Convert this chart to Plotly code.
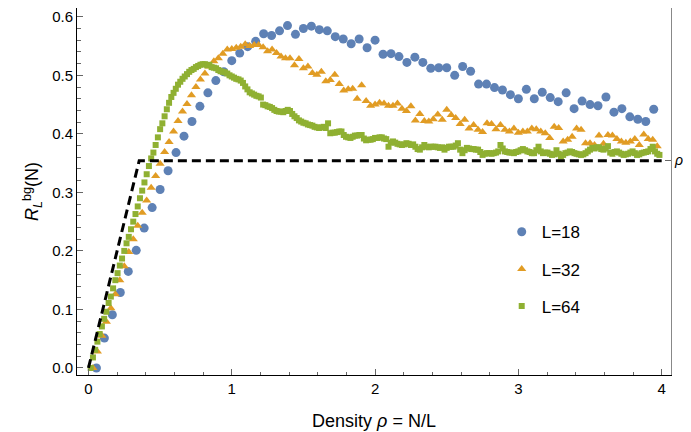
import numpy as np
import plotly.graph_objects as go

# reference line value (critical density)
rho_c = 0.354

# L=18 values, N = 1..71
r_L18 = [0.0, 0.051, 0.091, 0.129, 0.165, 0.201, 0.239, 0.274, 0.305, 0.337,
         0.368, 0.396, 0.421, 0.447, 0.470, 0.491, 0.506, 0.525, 0.538, 0.549,
         0.558, 0.571, 0.568, 0.576, 0.585, 0.570, 0.580, 0.584, 0.578, 0.576,
         0.566, 0.562, 0.554, 0.562, 0.547, 0.560, 0.536, 0.537, 0.532, 0.522,
         0.531, 0.522, 0.512, 0.513, 0.513, 0.500, 0.515, 0.507, 0.485, 0.485,
         0.479, 0.475, 0.467, 0.460, 0.476, 0.460, 0.471, 0.462, 0.455, 0.470,
         0.443, 0.456, 0.450, 0.448, 0.463, 0.437, 0.443, 0.429, 0.425, 0.421,
         0.442]

# L=32 values, N = 1..127
r_L32 = [0.0, 0.028, 0.055, 0.079, 0.102, 0.126, 0.150, 0.174, 0.198, 0.220,
         0.243, 0.265, 0.286, 0.308, 0.328, 0.349, 0.369, 0.386, 0.404, 0.422,
         0.438, 0.451, 0.466, 0.480, 0.493, 0.503, 0.515, 0.524, 0.529, 0.537,
         0.544, 0.545, 0.547, 0.549, 0.553, 0.550, 0.552, 0.552, 0.548, 0.541,
         0.544, 0.538, 0.532, 0.529, 0.529, 0.517, 0.528, 0.512, 0.515, 0.504,
         0.501, 0.506, 0.490, 0.492, 0.501, 0.485, 0.474, 0.476, 0.477, 0.460,
         0.483, 0.456, 0.448, 0.450, 0.453, 0.452, 0.448, 0.448, 0.452, 0.443,
         0.439, 0.447, 0.423, 0.434, 0.422, 0.421, 0.425, 0.433, 0.424, 0.441,
         0.432, 0.427, 0.417, 0.424, 0.409, 0.415, 0.407, 0.403, 0.418, 0.417,
         0.408, 0.415, 0.407, 0.404, 0.409, 0.402, 0.404, 0.404, 0.409, 0.408,
         0.404, 0.401, 0.393, 0.412, 0.410, 0.387, 0.390, 0.395, 0.409, 0.407,
         0.384, 0.384, 0.381, 0.397, 0.383, 0.398, 0.397, 0.391, 0.387, 0.385,
         0.387, 0.391, 0.381, 0.399, 0.391, 0.390, 0.379]

# L=64 values, N = 1..255
r_L64 = [0.0, 0.018, 0.031, 0.045, 0.058, 0.071, 0.084, 0.096, 0.111, 0.122,
         0.136, 0.150, 0.162, 0.175, 0.187, 0.200, 0.213, 0.224, 0.237, 0.250,
         0.263, 0.276, 0.290, 0.303, 0.317, 0.331, 0.345, 0.358, 0.368, 0.381,
         0.394, 0.408, 0.418, 0.430, 0.442, 0.453, 0.463, 0.470, 0.477, 0.484,
         0.489, 0.494, 0.498, 0.502, 0.506, 0.509, 0.511, 0.514, 0.516, 0.518,
         0.519, 0.519, 0.517, 0.518, 0.514, 0.513, 0.512, 0.509, 0.507, 0.506,
         0.505, 0.503, 0.500, 0.498, 0.496, 0.494, 0.493, 0.491, 0.487, 0.481,
         0.476, 0.471, 0.469, 0.467, 0.465, 0.464, 0.462, 0.450, 0.449, 0.447,
         0.446, 0.444, 0.441, 0.439, 0.438, 0.438, 0.437, 0.439, 0.441, 0.439,
         0.434, 0.430, 0.427, 0.423, 0.421, 0.419, 0.418, 0.416, 0.415, 0.414,
         0.412, 0.411, 0.410, 0.411, 0.412, 0.410, 0.418, 0.401, 0.402, 0.402,
         0.403, 0.404, 0.404, 0.398, 0.395, 0.394, 0.393, 0.395, 0.397, 0.397,
         0.398, 0.398, 0.392, 0.389, 0.390, 0.390, 0.391, 0.393, 0.393, 0.394,
         0.394, 0.392, 0.391, 0.378, 0.385, 0.387, 0.385, 0.383, 0.382, 0.381,
         0.382, 0.384, 0.383, 0.381, 0.382, 0.378, 0.374, 0.373, 0.377, 0.381,
         0.378, 0.377, 0.378, 0.378, 0.378, 0.377, 0.376, 0.377, 0.373, 0.376,
         0.378, 0.378, 0.378, 0.380, 0.384, 0.373, 0.367, 0.372, 0.376, 0.375,
         0.374, 0.374, 0.373, 0.373, 0.369, 0.364, 0.366, 0.367, 0.367, 0.366,
         0.367, 0.368, 0.370, 0.381, 0.375, 0.370, 0.369, 0.368, 0.368, 0.367,
         0.369, 0.370, 0.372, 0.374, 0.372, 0.370, 0.369, 0.367, 0.367, 0.372,
         0.378, 0.370, 0.367, 0.368, 0.368, 0.366, 0.364, 0.365, 0.372, 0.366,
         0.361, 0.364, 0.367, 0.368, 0.370, 0.369, 0.367, 0.366, 0.365, 0.364,
         0.365, 0.367, 0.370, 0.373, 0.376, 0.375, 0.377, 0.377, 0.374, 0.373,
         0.375, 0.379, 0.368, 0.366, 0.369, 0.370, 0.368, 0.366, 0.364, 0.365,
         0.366, 0.368, 0.370, 0.367, 0.364, 0.365, 0.367, 0.368, 0.369, 0.370,
         0.374, 0.378, 0.370, 0.366, 0.364]

series = [
    ('L=18', 18, r_L18, '#5E81B5', 'circle', 9),
    ('L=32', 32, r_L32, '#E19C24', 'triangle-up', 8),
    ('L=64', 64, r_L64, '#8FB032', 'square', 6),
]

x_max = 4.0
FONT = 'Liberation Sans, Arial, sans-serif'

fig = go.Figure()

# dashed guide: rho up to rho_c, then flat
fig.add_trace(go.Scatter(
    x=[0, rho_c, x_max], y=[0, rho_c, rho_c], mode='lines',
    line=dict(color='black', width=3, dash='9px,5px'),
    showlegend=False, hoverinfo='skip', yaxis='y2'))

for name, L, vals, col, sym, sz in series:
    N = np.arange(1, len(vals) + 1)
    fig.add_trace(go.Scatter(
        x=N / L, y=vals, mode='markers', name=name, legendgroup=name,
        marker=dict(color=col, symbol=sym, size=sz, line=dict(width=0))))

# rho_c label next to the right frame tick
fig.add_annotation(x=1, xref='paper', y=rho_c, yref='y', xanchor='left',
                   xshift=1, showarrow=False,
                   text='<i>ρ</i><sub><i>c</i></sub>', font=dict(size=14))

# the page body adds an 8px offset, so the figure is sized to fit the window
yr = [-0.012, 0.615]
fig.update_layout(
    width=683, height=424,
    margin=dict(l=69, r=20, t=0, b=57),
    plot_bgcolor='white', paper_bgcolor='white',
    font=dict(family=FONT, size=15, color='black'),
    legend=dict(x=0.715, y=0.438, xanchor='left', yanchor='top',
                font=dict(size=17), tracegroupgap=12,
                bgcolor='rgba(0,0,0,0)'),
    xaxis=dict(range=[-0.08, 4.065], tickvals=[0, 1, 2, 3, 4],
               ticks='inside', ticklen=6, tickcolor='#666',
               showline=True, linecolor='black', mirror=True,
               showgrid=False, zeroline=False, automargin=False,
               minor=dict(dtick=0.2, tick0=0, ticks='inside', ticklen=3.5,
                          tickcolor='#666', showgrid=False),
               title=dict(text='Density <i>ρ</i> = N/L', standoff=18)),
    yaxis=dict(range=yr, tickvals=[0, 0.1, 0.2, 0.3, 0.4, 0.5, 0.6],
               tickformat='.1f', automargin=False,
               ticks='inside', ticklen=6, tickcolor='#666',
               showline=True, linecolor='black', mirror=False,
               showgrid=False, zeroline=False,
               minor=dict(dtick=0.02, tick0=0, ticks='inside', ticklen=3.5,
                          tickcolor='#666', showgrid=False),
               title=dict(text='<i>R</i><sub><i>L</i></sub><sup>bg</sup>(N)',
                          standoff=8)),
    yaxis2=dict(range=yr, overlaying='y', side='right', automargin=False,
                tickvals=[rho_c], showticklabels=False,
                ticks='inside', ticklen=6, tickcolor='#666',
                showline=True, linecolor='#888', showgrid=False,
                zeroline=False),
)

fig.write_html('out.html')
